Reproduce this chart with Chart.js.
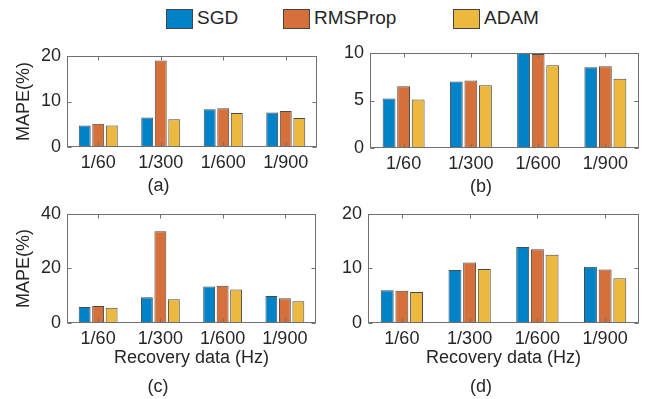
<!DOCTYPE html>
<html>
<head>
<meta charset="utf-8">
<script src="https://cdn.jsdelivr.net/npm/chart.js@4.4.0/dist/chart.umd.min.js"></script>
<style>
  body { margin: 0; background: #fff; width: 646px; height: 399px; position: relative; overflow: hidden;
         font-family: "Liberation Sans", Arial, sans-serif; color: #262626; }
  canvas { position: absolute; }
  .lg-box { position: absolute; width: 25px; height: 18px; border: 1px solid #444; }
  .lg-txt { position: absolute; font-size: 19px; line-height: 20px; }
</style>
</head>
<body>
<div id="legend"></div>

<script>
// categories and series (MAPE %)
const categories = ["1/60", "1/300", "1/600", "1/900"];
const seriesNames = ["SGD", "RMSProp", "ADAM"];
const colors = ["#0082c8", "#d6703a", "#edb83e"];

const sgdA = [4.7, 6.5, 8.3, 7.6];
const rmsA = [5.1, 19.0, 8.5, 7.9];
const adamA = [4.7, 6.1, 7.5, 6.4];

const sgdB = [5.2, 7.0, 10.0, 8.5];
const rmsB = [6.5, 7.1, 9.9, 8.6];
const adamB = [5.1, 6.6, 8.7, 7.3];

const sgdC = [5.9, 9.4, 13.4, 9.9];
const rmsC = [6.2, 33.6, 13.6, 9.1];
const adamC = [5.6, 8.7, 12.3, 8.0];

const sgdD = [6.0, 9.7, 13.9, 10.3];
const rmsD = [5.9, 11.1, 13.5, 9.8];
const adamD = [5.7, 9.9, 12.5, 8.2];

const txtColor = "#262626";
const axisColor = "#707070";
const fontFam = '"Liberation Sans", Arial, sans-serif';

// legend (html)
const legend = document.getElementById("legend");
const lgX = [166, 283, 453];
seriesNames.forEach((name, i) => {
  const b = document.createElement("div");
  b.className = "lg-box";
  b.style.left = lgX[i] + "px"; b.style.top = "9px"; b.style.background = colors[i];
  legend.appendChild(b);
  const t = document.createElement("div");
  t.className = "lg-txt";
  t.style.left = (lgX[i] + 31) + "px"; t.style.top = "8px";
  t.textContent = name;
  legend.appendChild(t);
});

// box + inside ticks on all four sides, like matlab axes
const boxTicks = {
  id: "boxTicks",
  afterDatasetsDraw(chart) {
    const { ctx, chartArea: a, scales: { x, y } } = chart;
    const l = Math.round(a.left) + 0.5, r = Math.round(a.right) - 0.5;
    const t = Math.round(a.top) + 0.5, b = Math.round(a.bottom) - 0.5;
    ctx.save();
    ctx.strokeStyle = axisColor;
    ctx.lineWidth = 1;
    ctx.beginPath();
    y.ticks.forEach((tk, i) => {
      const py = Math.round(y.getPixelForTick(i)) + 0.5;
      ctx.moveTo(l, py); ctx.lineTo(l + 4, py);
      ctx.moveTo(r, py); ctx.lineTo(r - 4, py);
    });
    x.ticks.forEach((tk, i) => {
      const px = Math.round(x.getPixelForTick(i)) + 0.5;
      ctx.moveTo(px, b); ctx.lineTo(px, b - 4);
      ctx.moveTo(px, t); ctx.lineTo(px, t + 4);
    });
    ctx.stroke();
    ctx.strokeRect(l, t, r - l, b - t);
    ctx.restore();
  }
};

function makePanel(p) {
  const cv = document.createElement("canvas");
  cv.width = p.cw; cv.height = p.ch;
  cv.style.left = p.cx + "px"; cv.style.top = p.cy + "px";
  cv.style.width = p.cw + "px"; cv.style.height = p.ch + "px";
  document.body.appendChild(cv);

  const hasXTitle = !!p.xTitle;
  const hx = hasXTitle ? 45 : 28;
  const sets = [p.sgd, p.rms, p.adam].map((d, i) => ({
    label: seriesNames[i],
    data: d,
    backgroundColor: colors[i],
    borderColor: "#4a4a4a",
    borderWidth: 1,
    categoryPercentage: 0.65,
    barPercentage: 0.88
  }));

  new Chart(cv, {
    type: "bar",
    data: { labels: categories, datasets: sets },
    plugins: [boxTicks],
    options: {
      responsive: false,
      devicePixelRatio: 1,
      animation: false,
      layout: { padding: { left: 0, top: p.T - p.cy, right: p.cx + p.cw - p.R, bottom: 0 } },
      plugins: {
        legend: { display: false },
        tooltip: { enabled: false },
        title: {
          display: true,
          position: "bottom",
          text: p.sub,
          color: txtColor,
          font: { family: fontFam, size: 18, weight: "normal", lineHeight: "22px" },
          padding: { top: p.subPad, bottom: 0 }
        }
      },
      scales: {
        x: {
          grid: { display: false, drawTicks: false },
          border: { display: false },
          ticks: { color: txtColor, font: { family: fontFam, size: 18 }, padding: 5, maxRotation: 0 },
          title: {
            display: hasXTitle,
            text: p.xTitle || "",
            color: txtColor,
            font: { family: fontFam, size: 18, lineHeight: "20px" },
            padding: { top: 0, bottom: 0 }
          },
          afterFit(s) { s.height = hx; }
        },
        y: {
          min: 0, max: p.yMax,
          grid: { display: false, drawTicks: false },
          border: { display: false },
          ticks: { stepSize: p.yStep, color: txtColor, font: { family: fontFam, size: 18 }, padding: 6 },
          title: {
            display: !!p.yTitle,
            text: p.yTitle || "",
            color: txtColor,
            font: { family: fontFam, size: 18, lineHeight: "20px" },
            padding: { top: 14, bottom: 0 }
          },
          afterFit(s) { s.width = p.L - p.cx; }
        }
      }
    }
  });
}

makePanel({ cx: 0, cy: 30, cw: 323, ch: 167, L: 67, T: 56, R: 317, sub: "(a)", subPad: 0,
  yMax: 20, yStep: 10, yTitle: "MAPE(%)", sgd: sgdA, rms: rmsA, adam: adamA });
makePanel({ cx: 323, cy: 30, cw: 323, ch: 168, L: 370, T: 53, R: 639, sub: "(b)", subPad: 0,
  yMax: 10, yStep: 5, sgd: sgdB, rms: rmsB, adam: adamB });
makePanel({ cx: 0, cy: 197, cw: 323, ch: 201, L: 67, T: 206, R: 316, sub: "(c)", subPad: 8,
  yMax: 40, yStep: 20, yTitle: "MAPE(%)", xTitle: "Recovery data (Hz)", sgd: sgdC, rms: rmsC, adam: adamC });
makePanel({ cx: 323, cy: 197, cw: 323, ch: 201, L: 368, T: 213, R: 639, sub: "(d)", subPad: 8,
  yMax: 20, yStep: 10, xTitle: "Recovery data (Hz)", sgd: sgdD, rms: rmsD, adam: adamD });
</script>
</body>
</html>
